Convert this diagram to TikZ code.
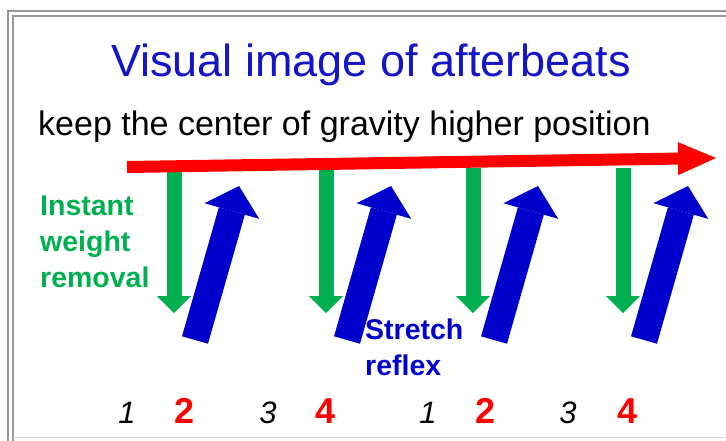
\documentclass[tikz,border=0pt]{standalone}
\usepackage{fontspec}
\setmainfont{Liberation Sans}
\usetikzlibrary{arrows.meta, positioning}
\definecolor{titleblue}{RGB}{20,20,200}
\definecolor{reflexblue}{RGB}{0,0,204}
\definecolor{dropgreen}{RGB}{0,176,80}
\definecolor{beatred}{RGB}{255,0,0}
\definecolor{framegray}{RGB}{150,150,150}

\tikzset{
  droparrow/.style={draw=dropgreen, line width=15pt,
    -{Triangle[width=34pt, length=17pt, line width=0pt]}},
  reflexarrow/.style={draw=reflexblue, line width=27pt,
    -{Triangle[width=57pt, length=26pt, line width=0pt]}},
  gravityarrow/.style={draw=beatred, line width=12pt,
    -{Triangle[width=33pt, length=38pt, line width=0pt]}},
  label/.style={inner sep=0pt, align=left, font=\fontsize{28.5}{36}\selectfont\bfseries},
  beat/.style={inner sep=0pt, anchor=base, font=\fontsize{31}{33}\selectfont\itshape},
  accent/.style={inner sep=0pt, anchor=base, text=beatred,
    font=\fontsize{36}{38}\selectfont\bfseries}
}

\begin{document}
\begin{tikzpicture}[x=1pt,y=-1pt]
\useasboundingbox (0,0) rectangle (726,440);

% ── Frame ─────────────────────────────────────────────────────────────────────
\draw[framegray, line width=1.2pt] (8,445) -- (8,11) -- (740,11);
\draw[framegray, line width=1.2pt] (13,445) -- (13,16) -- (740,16);
\draw[framegray!40, line width=0.8pt] (13,437) -- (740,437);

% ── Headings ──────────────────────────────────────────────────────────────────
\node[inner sep=0pt, anchor=base, text=titleblue,
      font=\fontsize{45}{50}\selectfont] (title) at (371,76)
      {Visual image of afterbeats};
\node[inner sep=0pt, anchor=base west, font=\fontsize{34}{40}\selectfont]
      (gravity) at (38,135) {keep the center of gravity higher position};

% ── Weight removal (green) and stretch reflex (blue) ─────────────────────────
\foreach \i/\gx in {1/174, 2/326, 3/473, 4/623} {
  \coordinate (drop\i) at (\gx,168);
  \coordinate (droptip\i) at (\gx,313);
  \draw[droparrow] (drop\i) -- (droptip\i);
  \coordinate (reflex\i) at (\gx+21,340);
  \coordinate (reflextip\i) at (\gx+65,186);
  \draw[reflexarrow] (reflex\i) -- (reflextip\i);
}

% ── Center of gravity line ────────────────────────────────────────────────────
\coordinate (cog) at (127,167);
\coordinate (cogtip) at (716,158);
\draw[gravityarrow] (cog) -- (cogtip);

\node[label, text=dropgreen, anchor=north west] (removal) at (40,196)
      {Instant\\weight\\removal};
\node[label, text=reflexblue, anchor=north west] (stretch) at (365,319)
      {Stretch\\reflex};

% ── Counts ────────────────────────────────────────────────────────────────────
\foreach \k/\x/\n/\sty in {1/127/1/beat, 2/185/2/accent, 3/268/3/beat, 4/326/4/accent,
                          5/428/1/beat, 6/486/2/accent, 7/568/3/beat, 8/628/4/accent}
  \node[\sty] (count\k) at (\x,423) {\n};

\end{tikzpicture}
\end{document}
